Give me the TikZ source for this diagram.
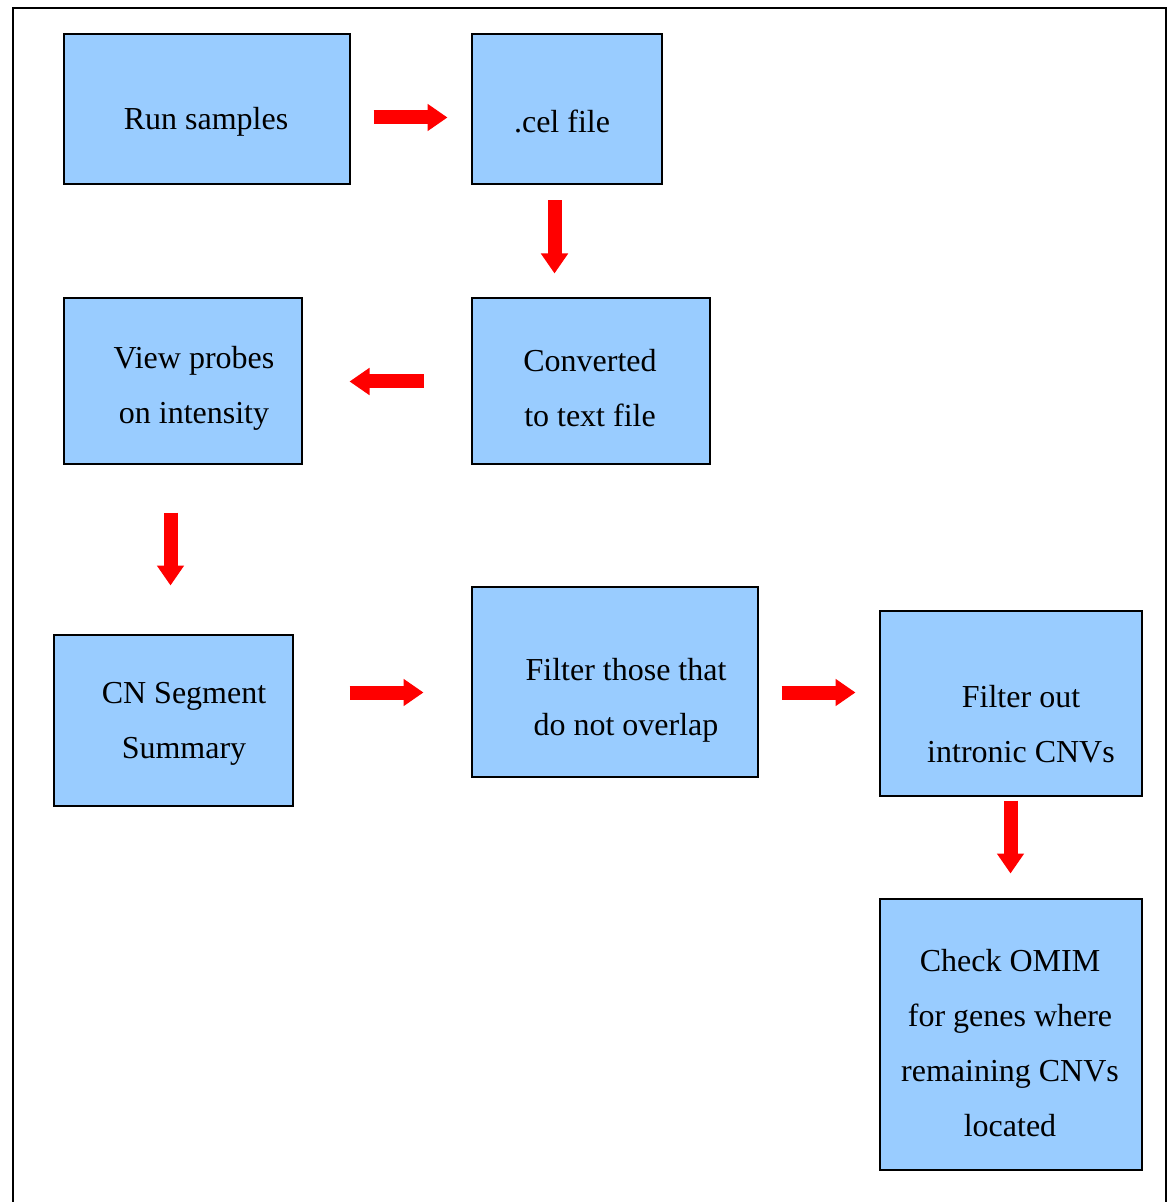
\documentclass[tikz,border=0pt]{standalone}
\usepackage{fontspec}
\setmainfont{Liberation Serif}
\usetikzlibrary{arrows.meta,calc}
\definecolor{boxblue}{RGB}{153,204,255}
\definecolor{arrred}{RGB}{255,0,0}
\begin{document}
\begin{tikzpicture}[x=0.5pt,y=-0.5pt,
  box/.style={draw=black,line width=1pt,fill=boxblue,inner sep=0pt,anchor=north west},
  lbl/.style={align=center,font=\fontsize{16}{27.5}\selectfont,inner sep=0pt},
  barrow/.style={draw=arrred,line width=7pt,-{Triangle[width=13pt,length=10pt]},arrred}]
\useasboundingbox (0,0) rectangle (1172,1202);
\fill[white] (0,0) rectangle (1172,1202);
\draw[line width=1pt] (13,1202) -- (13,8) -- (1166,8) -- (1166,1202);
% boxes
\node[box,minimum width=143pt,minimum height=75pt] (run) at (62.5,33.5) {};
\node[box,minimum width=95pt,minimum height=75pt] (cel) at (470.5,33.5) {};
\node[box,minimum width=119pt,minimum height=83pt] (conv) at (470.5,297.5) {};
\node[box,minimum width=119pt,minimum height=83pt] (view) at (62.5,297.5) {};
\node[box,minimum width=119.5pt,minimum height=85.5pt] (cn) at (52.5,633.5) {};
\node[box,minimum width=143pt,minimum height=95pt] (filt1) at (470.5,585.5) {};
\node[box,minimum width=131pt,minimum height=92.5pt] (filt2) at (878.5,609.5) {};
\node[box,minimum width=131pt,minimum height=135.5pt] (omim) at (878.5,897.5) {};
% labels
\node[lbl] (trun) at (206,122) {Run samples};
\node[lbl] (tcel) at (562,121) {.cel file};
\node[lbl] (tconv) at (590,388) {Converted\\to text file};
\node[lbl] (tview) at (194,388) {View probes\\on intensity};
\node[lbl] (tcn) at (184,724) {CN Segment\\Summary};
\node[lbl] (tf1) at (626,700) {Filter those that\\do not overlap};
\node[lbl] (tf2) at (1021,724) {Filter out\\intronic CNVs};
\node[lbl] (tom) at (1010,1043) {Check OMIM\\for genes where\\remaining CNVs\\located};
% arrows
\draw[barrow,shorten <=11.5pt,shorten >=11.5pt] ($(run.east)+(0,8)$) -- ($(cel.west)+(0,8)$);
\draw[barrow,shorten <=7.5pt,shorten >=12pt] ($(cel.south)+(-12,0)$) -- ($(conv.north)+(-36,0)$);
\draw[barrow,shorten <=23.5pt,shorten >=23.5pt] (conv.west) -- (view.east);
\draw[barrow,shorten <=23.5pt,shorten >=24pt] ($(view.south)+(-12,0)$) -- ($(cn.north)+(-2.5,0)$);
\draw[barrow,shorten <=28pt,shorten >=23.5pt] ($(cn.east)+(0,-27.5)$) -- ($(filt1.west)+(0,11)$);
\draw[barrow,shorten <=11.5pt,shorten >=11.5pt] ($(filt1.east)+(0,11)$) -- ($(filt2.west)+(0,-10.5)$);
\draw[barrow,shorten <=2pt,shorten >=12pt] (filt2.south) -- (omim.north);
\end{tikzpicture}
\end{document}
